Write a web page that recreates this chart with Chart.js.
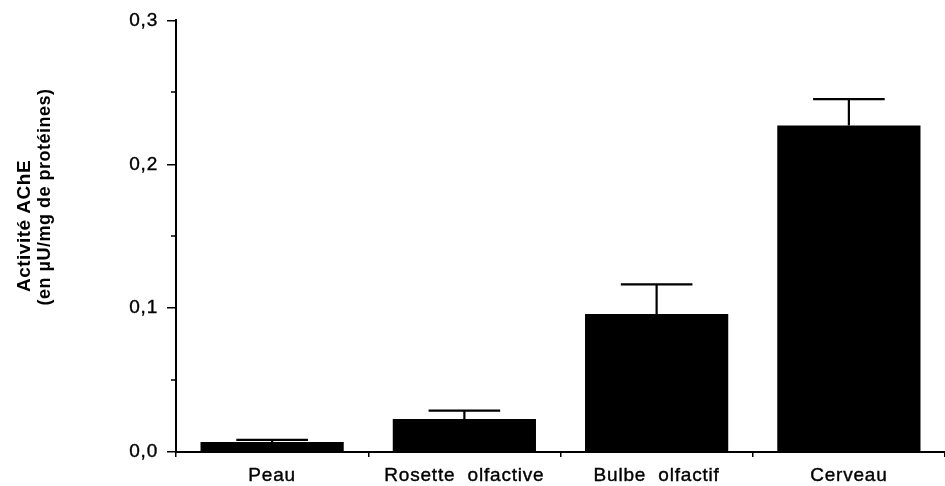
<!DOCTYPE html>
<html>
<head>
<meta charset="utf-8">
<script src="https://cdn.jsdelivr.net/npm/chart.js@4.4.0/dist/chart.umd.min.js"></script>
<style>
  html, body { margin: 0; padding: 0; background: #fff; }
  #wrap { width: 945px; height: 486px; position: relative; }
</style>
</head>
<body>
<div id="wrap"><canvas id="acheChart"></canvas></div>
<script>
const categories = ['Peau', 'Rosette  olfactive', 'Bulbe  olfactif', 'Cerveau'];
const activity = [0.007, 0.023, 0.096, 0.227];
const activityErr = [0.0014, 0.0057, 0.0205, 0.0183];
const yTicks = [0, 0.1, 0.2, 0.3];
const yMinorTicks = [0.05, 0.15, 0.25];
const yTitleLines = ['Activité AChE', '(en µU/mg de protéines)'];

function initAcheChart() {
    const FONT = "'Liberation Sans', Arial, Helvetica, sans-serif";

    // a bit of letter spacing like the scanned figure
    const spacingPlugin = {
        id: 'spacing',
        beforeLayout(chart) { chart.ctx.letterSpacing = '0.8px'; },
        beforeDraw(chart) { chart.ctx.letterSpacing = '0.8px'; }
    };

    const minorTicksPlugin = {
        id: 'minorTicks',
        afterDraw(chart) {
            const ctx = chart.ctx;
            const y = chart.scales.y;
            const left = chart.chartArea.left;
            ctx.save();
            ctx.strokeStyle = '#000';
            ctx.lineWidth = 1.5;
            yMinorTicks.forEach(v => {
                const py = Math.round(y.getPixelForValue(v));
                ctx.beginPath();
                ctx.moveTo(left - 5, py);
                ctx.lineTo(left, py);
                ctx.stroke();
            });
            ctx.restore();
        }
    };

    const errorBarsPlugin = {
        id: 'errorBars',
        afterDatasetsDraw(chart) {
            const ctx = chart.ctx;
            const y = chart.scales.y;
            const meta = chart.getDatasetMeta(0);
            ctx.save();
            ctx.strokeStyle = '#000';
            ctx.lineWidth = 2.2;
            meta.data.forEach((bar, i) => {
                const top = y.getPixelForValue(activity[i] + activityErr[i]);
                const capHalf = bar.width * 0.25;
                ctx.beginPath();
                ctx.moveTo(bar.x, bar.y);
                ctx.lineTo(bar.x, top);
                ctx.moveTo(bar.x - capHalf, top);
                ctx.lineTo(bar.x + capHalf, top);
                ctx.stroke();
            });
            ctx.restore();
        }
    };

    const yTitlePlugin = {
        id: 'yTitle',
        afterDraw(chart) {
            const ctx = chart.ctx;
            const pos = [[25, 226, 19], [45, 197, 18]];
            ctx.save();
            ctx.fillStyle = '#000';
            ctx.letterSpacing = '0.5px';
            ctx.textAlign = 'center';
            ctx.textBaseline = 'middle';
            yTitleLines.forEach((line, i) => {
                ctx.save();
                ctx.translate(pos[i][0], pos[i][1]);
                ctx.rotate(-Math.PI / 2);
                ctx.font = 'bold ' + pos[i][2] + 'px ' + FONT;
                ctx.fillText(line, 0, 0);
                ctx.restore();
            });
            ctx.restore();
        }
    };

    const ctx = document.getElementById('acheChart').getContext('2d');
    new Chart(ctx, {
        type: 'bar',
        data: {
            labels: categories,
            datasets: [{
                data: activity,
                backgroundColor: '#000',
                borderWidth: 0,
                barPercentage: 0.745,
                categoryPercentage: 1
            }]
        },
        options: {
            responsive: true,
            maintainAspectRatio: false,
            animation: false,
            layout: { padding: { top: 20, right: 0, bottom: 0, left: 0 } },
            plugins: { legend: { display: false }, tooltip: { enabled: false } },
            scales: {
                x: {
                    afterFit: s => { s.height = 34; },
                    border: { display: true, color: '#000', width: 2 },
                    grid: { drawOnChartArea: false, drawTicks: true, tickLength: 5, color: '#000', lineWidth: 1.5 },
                    ticks: {
                        color: '#000', padding: 7,
                        textStrokeColor: '#000', textStrokeWidth: 0.4,
                        font: { family: FONT, size: 19 }
                    }
                },
                y: {
                    min: 0,
                    max: 0.3,
                    afterFit: s => { s.width = 176; },
                    afterBuildTicks: s => { s.ticks = yTicks.map(v => ({ value: v })); },
                    border: { display: true, color: '#000', width: 2 },
                    grid: { drawOnChartArea: false, drawTicks: true, tickLength: 9, color: '#000', lineWidth: 1.5 },
                    ticks: {
                        color: '#000',
                        padding: 9,
                        textStrokeColor: '#000', textStrokeWidth: 0.4,
                        font: { family: FONT, size: 19 },
                        callback: v => v.toFixed(1).replace('.', ',')
                    }
                }
            }
        },
        plugins: [spacingPlugin, minorTicksPlugin, errorBarsPlugin, yTitlePlugin]
    });
}

if (typeof Chart !== 'undefined') {
    initAcheChart();
} else {
    window.addEventListener('load', initAcheChart);
}
</script>
</body>
</html>
